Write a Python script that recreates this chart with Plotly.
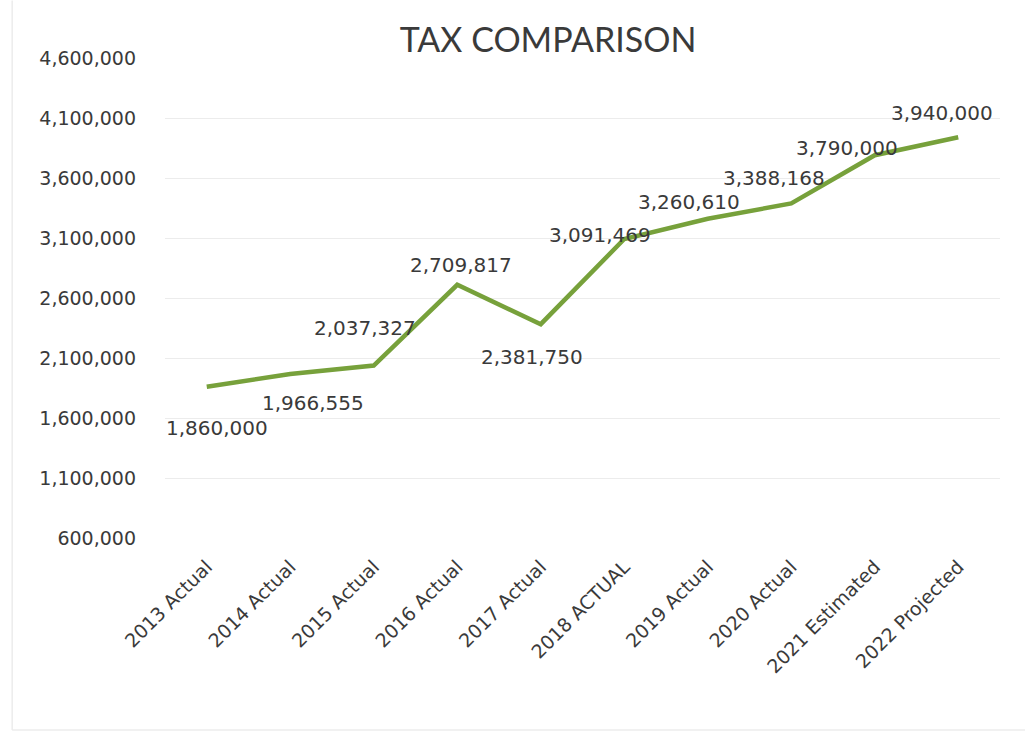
import plotly.graph_objects as go

# Tax revenue by year
years = ["2013 Actual", "2014 Actual", "2015 Actual", "2016 Actual", "2017 Actual",
         "2018 ACTUAL", "2019 Actual", "2020 Actual", "2021 Estimated", "2022 Projected"]
tax = [1860000, 1966555, 2037327, 2709817, 2381750,
       3091469, 3260610, 3388168, 3790000, 3940000]
y_ticks = [600000, 1100000, 1600000, 2100000, 2600000, 3100000, 3600000, 4100000, 4600000]

# per-label pixel offsets (dx, dy) from the data point
label_offsets = [(10, -41), (23, -29), (-9, 38), (4, 20), (-9, -33),
                 (-24, 4), (-19, 17), (-17, 25), (-28, 7), (-16, 24)]

LINE = "#77a13b"
TXT = "#3a3a3a"

fig = go.Figure()
fig.add_trace(go.Scatter(
    x=years, y=tax, mode="lines",
    line=dict(color=LINE, width=4.5),
    hoverinfo="skip", showlegend=False,
))

for cat, val, (dx, dy) in zip(years, tax, label_offsets):
    fig.add_annotation(
        x=cat, y=val, text=f"{val:,}", showarrow=False,
        xshift=dx, yshift=dy,
        font=dict(family="DejaVu Sans", size=20, color=TXT),
    )

# faint chart-area edges (left and bottom)
frame = dict(color="#ececec", width=1.5)
fig.add_shape(type="line", xref="paper", yref="paper",
              x0=-0.183, x1=-0.183, y0=-0.400, y1=1.12, line=frame, layer="below")
fig.add_shape(type="line", xref="paper", yref="paper",
              x0=-0.183, x1=1.03, y0=-0.400, y1=-0.400, line=frame, layer="below")

fig.update_layout(
    width=1028, height=734,
    margin=dict(l=165, r=28, t=58, b=196),
    paper_bgcolor="white", plot_bgcolor="white",
    title=dict(text="TAX COMPARISON", x=548 / 1028, xanchor="center",
               y=1 - 40 / 734, yanchor="middle",
               font=dict(family="Lato", size=34, color=TXT)),
    xaxis=dict(
        type="category", range=[-0.5, 9.5],
        showgrid=False, showline=False, zeroline=False,
        tickangle=-45, ticklabelstandoff=13,
        tickfont=dict(family="DejaVu Sans", size=19, color=TXT),
    ),
    yaxis=dict(
        range=[600000, 4600000], tickvals=y_ticks,
        ticktext=[f"{v:,}" for v in y_ticks],
        showgrid=True, gridcolor="#ececec", gridwidth=1,
        zeroline=False, showline=False,
        ticklabelstandoff=28,
        tickfont=dict(family="DejaVu Sans", size=19, color=TXT),
    ),
)

fig.write_html("out.html")
